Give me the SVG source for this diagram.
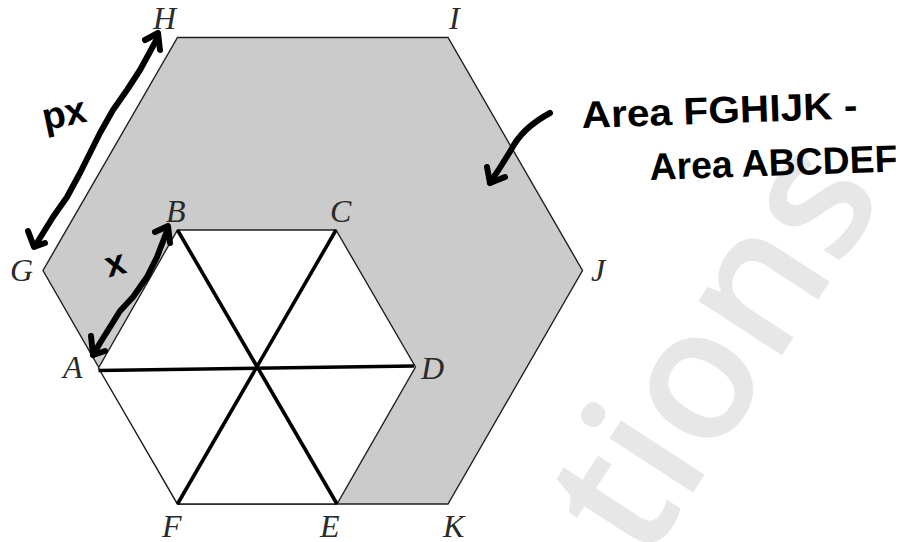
<svg xmlns="http://www.w3.org/2000/svg" width="900" height="542" viewBox="0 0 900 542">
<style>
.lbl{font-family:"Liberation Serif","Times New Roman",serif;font-style:italic;font-size:32px;fill:#2a2a2a}
.hand{font-family:"Liberation Sans",Arial,sans-serif;font-weight:bold;fill:#000}
.ink{fill:none;stroke:#000;stroke-width:6;stroke-linecap:round;stroke-linejoin:round}
.thin{stroke:#231f20;stroke-width:1.4;stroke-linejoin:miter}
.diag{stroke:#000;stroke-width:3.6;stroke-linecap:butt}
</style>
<rect width="900" height="542" fill="#fff"/>
<text id="watermark" transform="translate(645,566) rotate(-57)" font-family="'Open Sans',sans-serif" font-weight="600" font-size="184" fill="#e7e7e7">tions</text>
<g id="outer-hexagon">
<polygon class="thin" fill="#cbcbcb" points="177.5,37.5 448,37.5 582.5,270.5 448,504 177.5,504 43,270.5"/>
</g>
<g id="inner-hexagon">
<polygon class="thin" fill="#fff" points="177.5,230 336,230 415.5,367 337,504 177.5,504 98.5,368"/>
</g>
<g id="connectors">
<line class="diag" x1="98.5" y1="370.5" x2="414" y2="366"/>
<line class="diag" x1="177.5" y1="230" x2="337" y2="504"/>
<line class="diag" x1="336" y1="230" x2="177.5" y2="504"/>
</g>
<g id="labels">
<text class="lbl" x="153" y="29">H</text>
<text class="lbl" x="449" y="29">I</text>
<text class="lbl" x="166" y="222">B</text>
<text class="lbl" x="330" y="222">C</text>
<text class="lbl" x="10" y="281">G</text>
<text class="lbl" x="591" y="281">J</text>
<text class="lbl" x="63" y="378">A</text>
<text class="lbl" x="421" y="379">D</text>
<text class="lbl" x="162" y="537">F</text>
<text class="lbl" x="320" y="537">E</text>
<text class="lbl" x="443" y="537">K</text>
</g>
<g id="annotation-px">
<path class="ink" d="M158,37 L140,70 L127,90 L113,110 L100,133 L90,153 L80,173 L67,197 L53,217 L35,246"/>
<path class="ink" d="M145,40 L158,33 L160,50"/>
<path class="ink" d="M28,231 L34,247 L45,243"/>
<text class="hand" x="42" y="127" font-size="38" transform="rotate(-12 60 115)">px</text>
</g>
<g id="annotation-x">
<path class="ink" d="M167,231 L157,257 L147,277 L133,297 L120,311 L110,327 L100,343 L93,355"/>
<path class="ink" d="M155,232 L168,226 L170,243"/>
<path class="ink" d="M91,336 L93,355 L105,351"/>
<text class="hand" x="105" y="274" font-size="36" transform="rotate(-15 120 262)">x</text>
</g>
<g id="annotation-area">
<path class="ink" d="M550,113 Q522,128 511,150 Q500,168 490,183"/>
<path class="ink" d="M487,167 L490,183 L505,177"/>
<text class="hand" x="582" y="128" font-size="38" textLength="276" lengthAdjust="spacingAndGlyphs" transform="rotate(-2 582 128)">Area FGHIJK -</text>
<text class="hand" x="650" y="180" font-size="38" textLength="248" lengthAdjust="spacingAndGlyphs" transform="rotate(-2 650 180)">Area ABCDEF</text>
</g>
</svg>
